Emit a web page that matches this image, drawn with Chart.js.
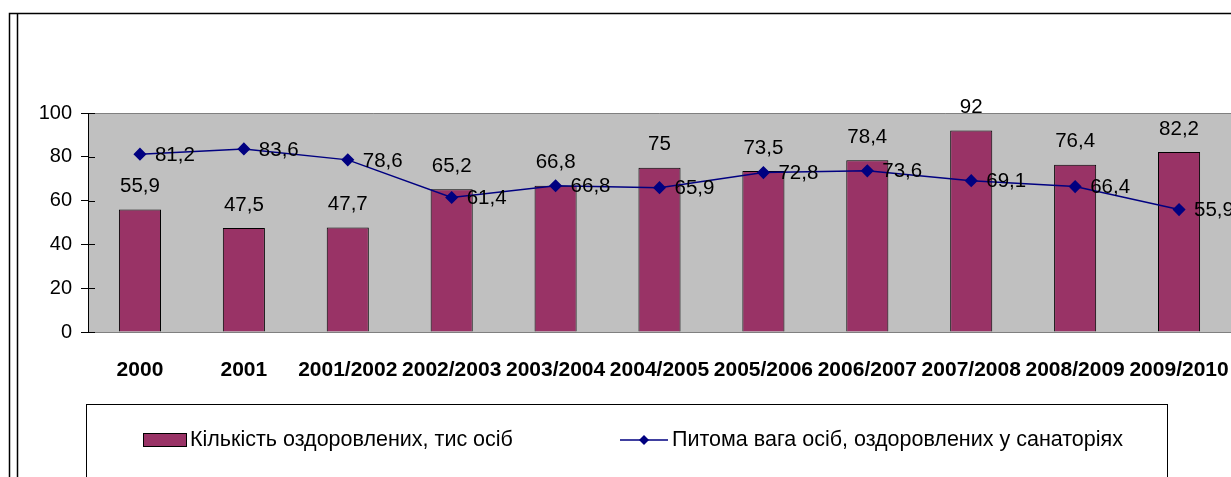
<!DOCTYPE html>
<html>
<head>
<meta charset="utf-8">
<script src="https://cdn.jsdelivr.net/npm/chart.js@4/dist/chart.umd.min.js"></script>
<style>
  html, body { margin: 0; padding: 0; background: #fff; }
  #wrap { width: 1231px; height: 477px; }
</style>
</head>
<body>
<div id="wrap"><canvas id="chart" width="1231" height="477"></canvas></div>
<script>
const categories = ['2000', '2001', '2001/2002', '2002/2003', '2003/2004', '2004/2005',
  '2005/2006', '2006/2007', '2007/2008', '2008/2009', '2009/2010'];
const healed = [55.9, 47.5, 47.7, 65.2, 66.8, 75, 73.5, 78.4, 92, 76.4, 82.2];
const sanatShare = [81.2, 83.6, 78.6, 61.4, 66.8, 65.9, 72.8, 73.6, 69.1, 66.4, 55.9];
const yTicks = [0, 20, 40, 60, 80, 100];

const FONT = "Arial, 'Liberation Sans', sans-serif";
const fmt = v => String(v).replace('.', ',');

// frame, grey plot area, value labels and the boxed legend
const decor = {
  id: 'decor',
  beforeDraw(chart) {
    const c = chart.ctx, a = chart.chartArea;
    c.save();
    c.fillStyle = '#fff';
    c.fillRect(0, 0, chart.width, chart.height);
    c.strokeStyle = '#000';
    c.lineWidth = 1.5;
    c.beginPath();
    c.moveTo(9.5, chart.height); c.lineTo(9.5, 13.5); c.lineTo(chart.width, 13.5);
    c.moveTo(17.5, chart.height); c.lineTo(17.5, 13.5);
    c.stroke();
    c.fillStyle = '#c0c0c0';
    c.fillRect(a.left, a.top, a.right - a.left, a.bottom - a.top);
    c.strokeStyle = '#808080';
    c.lineWidth = 1;
    c.beginPath();
    c.moveTo(a.left, a.top + 0.5); c.lineTo(a.right, a.top + 0.5);
    c.stroke();
    c.restore();
  },
  afterDatasetsDraw(chart) {
    const c = chart.ctx;
    c.save();
    c.fillStyle = '#000';
    c.font = '20.5px ' + FONT;
    c.textBaseline = 'middle';
    const bars = chart.getDatasetMeta(1).data;
    c.textAlign = 'center';
    bars.forEach((b, i) => c.fillText(fmt(healed[i]), b.x, b.y - 23));
    const pts = chart.getDatasetMeta(0).data;
    c.textAlign = 'left';
    pts.forEach((p, i) => c.fillText(fmt(sanatShare[i]), p.x + 15, p.y + 1));
    c.restore();
  },
  afterDraw(chart) {
    const c = chart.ctx, a = chart.chartArea, y = chart.scales.y;
    c.save();
    // inner half of y tick marks
    c.strokeStyle = '#000';
    c.lineWidth = 1;
    c.beginPath();
    yTicks.forEach(t => {
      const py = Math.round(y.getPixelForValue(t)) + 0.5;
      c.moveTo(a.left, py); c.lineTo(a.left + 7, py);
    });
    c.stroke();
    // legend box
    c.strokeRect(86.5, 404.5, 1081, 100);
    const ds = chart.data.datasets;
    c.font = '21.5px ' + FONT;
    c.textBaseline = 'middle';
    c.textAlign = 'left';
    const ly = 440;
    c.fillStyle = ds[1].backgroundColor;
    c.fillRect(143, 433, 43, 13);
    c.strokeRect(143.5, 433.5, 43, 13);
    c.fillStyle = '#000';
    c.fillText(ds[1].label, 190, ly);
    c.strokeStyle = ds[0].borderColor;
    c.lineWidth = 1.5;
    c.beginPath();
    c.moveTo(620, ly); c.lineTo(668, ly);
    c.stroke();
    c.fillStyle = ds[0].borderColor;
    c.beginPath();
    c.moveTo(644, ly - 5); c.lineTo(649, ly); c.lineTo(644, ly + 5); c.lineTo(639, ly);
    c.closePath(); c.fill();
    c.fillStyle = '#000';
    c.fillText(ds[0].label, 672, ly);
    c.restore();
  }
};

new Chart(document.getElementById('chart'), {
  type: 'bar',
  data: {
    labels: categories,
    datasets: [
      {
        type: 'line',
        label: 'Питома вага осіб, оздоровлених у санаторіях',
        data: sanatShare,
        borderColor: '#000080',
        backgroundColor: '#000080',
        borderWidth: 1.5,
        pointStyle: 'rectRot',
        pointRadius: 5.5,
        tension: 0,
        clip: false,
        order: 0
      },
      {
        type: 'bar',
        label: 'Кількість оздоровлених, тис осіб',
        data: healed,
        backgroundColor: '#993366',
        borderColor: '#000',
        borderWidth: 1,
        categoryPercentage: 1,
        barPercentage: 0.405,
        order: 1
      }
    ]
  },
  options: {
    responsive: false,
    animation: false,
    layout: { autoPadding: false, padding: { top: 113, left: 0, right: 0, bottom: 73 } },
    plugins: {
      legend: { display: false },
      title: { display: false },
      tooltip: { enabled: false }
    },
    scales: {
      x: {
        grid: { display: false },
        border: { display: true, color: '#808080' },
        ticks: { color: '#000', font: { family: FONT, size: 21, weight: 'bold' }, padding: 18, maxRotation: 0, autoSkip: false },
        afterFit(s) { s.paddingLeft = 0; s.paddingRight = 0; s.height = 72; }
      },
      y: {
        min: 0,
        max: 100,
        afterBuildTicks(s) { s.ticks = yTicks.map(v => ({ value: v })); },
        grid: { drawOnChartArea: false, tickLength: 7, color: '#000' },
        border: { display: true, color: '#000' },
        ticks: { color: '#000', font: { family: FONT, size: 20 }, padding: 9 },
        afterFit(s) { s.width = 88; }
      }
    }
  },
  plugins: [decor]
});
</script>
</body>
</html>
